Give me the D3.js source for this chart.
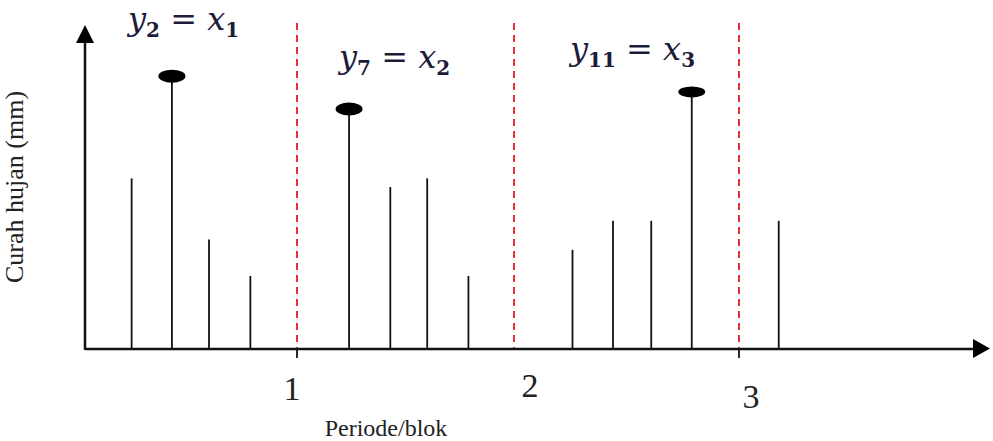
<!DOCTYPE html>
<html>
<head>
<meta charset="utf-8">
<script src="https://cdn.jsdelivr.net/npm/d3@7"></script>
<style>
  body { margin: 0; background: #fff; }
  svg { display: block; }
</style>
</head>
<body>
<svg id="chart" width="993" height="441"></svg>
<script>
// dati: posizione (in blocchi) e altezza di ogni osservazione
const posisi = [0.22, 0.41, 0.585, 0.78, 1.24, 1.43, 1.60, 1.79, 2.26, 2.44, 2.61, 2.79, 3.19];
const curah  = [53, 83.5, 34, 22.7, 73.3, 50.3, 53, 22.7, 30.8, 39.8, 39.8, 78.6, 39.8];
// indici dei massimi di ogni blocco
const maksimum = [1, 4, 11];
const labelMaks = [
  { y: "y", ys: "2", x: "x", xs: "1" },
  { y: "y", ys: "7", x: "x", xs: "2" },
  { y: "y", ys: "11", x: "x", xs: "3" }
];
const batasBlok = [1, 2, 3];
const tickLabel = ["1", "2", "3"];

const svg = d3.select("#chart");

// scala x a tratti (i blocchi non hanno tutti la stessa larghezza)
const x = d3.scaleLinear()
  .domain([0, 1, 2, 3, 4.2])
  .range([85, 297, 514, 739, 990]);

const y = d3.scaleLinear()
  .domain([0, 100])
  .range([349, 27]);

// linee rosse tratteggiate tra i blocchi
svg.selectAll(".batas")
  .data(batasBlok)
  .enter()
  .append("line")
  .attr("class", "batas")
  .attr("x1", d => x(d)).attr("x2", d => x(d))
  .attr("y1", 23).attr("y2", y(0))
  .attr("stroke", "#e8303a")
  .attr("stroke-width", 2)
  .attr("stroke-dasharray", "7,5");

// stem
svg.selectAll(".stem")
  .data(curah)
  .enter()
  .append("line")
  .attr("class", "stem")
  .attr("x1", (d, i) => x(posisi[i])).attr("x2", (d, i) => x(posisi[i]))
  .attr("y1", y(0)).attr("y2", d => y(d))
  .attr("stroke", "#111")
  .attr("stroke-width", 1.8);

// pallini sui massimi
svg.selectAll(".maks")
  .data(maksimum)
  .enter()
  .append("ellipse")
  .attr("class", "maks")
  .attr("cx", d => x(posisi[d]))
  .attr("cy", d => y(curah[d]) - 4)
  .attr("rx", 13.5)
  .attr("ry", (d, i) => i === 2 ? 5.5 : 6.5)
  .attr("fill", "#000");

// assi
svg.append("line")
  .attr("x1", x(0)).attr("x2", 975)
  .attr("y1", y(0)).attr("y2", y(0))
  .attr("stroke", "#111").attr("stroke-width", 2.5);
svg.append("line")
  .attr("x1", x(0)).attr("x2", x(0))
  .attr("y1", y(0) + 1).attr("y2", 40)
  .attr("stroke", "#111").attr("stroke-width", 2.5);

// frecce
svg.append("path")
  .attr("d", "M85,25 L76,43 L94,43 Z")
  .attr("fill", "#000");
svg.append("path")
  .attr("d", "M990,348.5 L973,339 L973,358 Z")
  .attr("fill", "#000");

// tacche sotto l'asse
svg.selectAll(".tacca")
  .data([1, 3])
  .enter()
  .append("line")
  .attr("x1", d => x(d)).attr("x2", d => x(d))
  .attr("y1", y(0)).attr("y2", y(0) + 9)
  .attr("stroke", "#111").attr("stroke-width", 1.8);

// etichette dei blocchi (leggermente sfalsate come nell'originale)
const spost = [[-5, 51], [16, 48], [12, 59]];
svg.selectAll(".tick-label")
  .data(tickLabel)
  .enter()
  .append("text")
  .attr("x", (d, i) => x(batasBlok[i]) + spost[i][0])
  .attr("y", (d, i) => y(0) + spost[i][1])
  .attr("text-anchor", "middle")
  .attr("font-family", "Liberation Serif, serif")
  .attr("font-size", 34)
  .attr("fill", "#222")
  .text(d => d);

svg.append("text")
  .attr("x", 386).attr("y", 436)
  .attr("text-anchor", "middle")
  .attr("font-family", "Liberation Serif, serif")
  .attr("font-size", 24)
  .attr("fill", "#222")
  .text("Periode/blok");

svg.append("text")
  .attr("transform", "translate(23,187) rotate(-90)")
  .attr("text-anchor", "middle")
  .attr("font-family", "Liberation Serif, serif")
  .attr("font-size", 26)
  .attr("fill", "#222")
  .text("Curah hujan (mm)");

// annotazioni y_i = x_j
const annPos = [[128, 30], [339, 68], [570, 60]];
labelMaks.forEach((l, i) => {
  const t = svg.append("text")
    .attr("x", annPos[i][0]).attr("y", annPos[i][1])
    .attr("font-family", "DejaVu Serif, serif")
    .attr("font-size", 32)
    .attr("fill", "#1c1c3a");
  t.append("tspan").attr("font-style", "italic").text(l.y);
  t.append("tspan").attr("font-size", 20).attr("dy", 7).attr("font-weight", "bold").text(l.ys);
  t.append("tspan").attr("dy", -7).text(" = ");
  t.append("tspan").attr("font-style", "italic").text(l.x);
  t.append("tspan").attr("font-size", 20).attr("dy", 7).attr("font-weight", "bold").text(l.xs);
});
</script>
</body>
</html>
